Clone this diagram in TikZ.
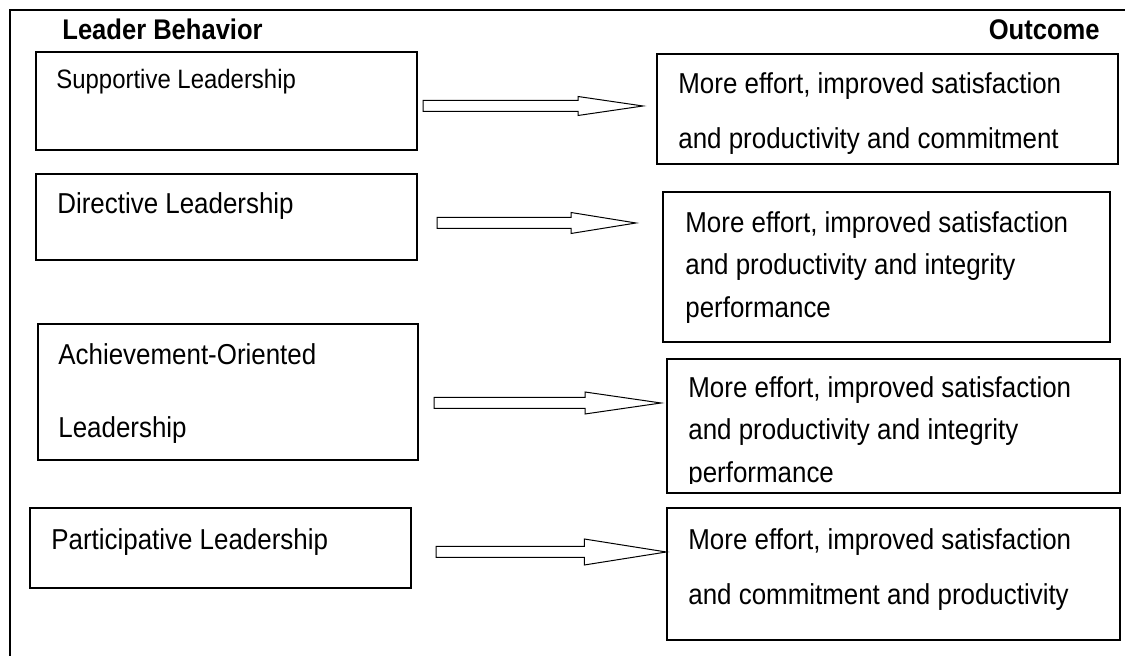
\documentclass[tikz,border=0pt]{standalone}
\usepackage{fontspec}
\setmainfont{Liberation Sans}[FakeStretch=0.9]
\usetikzlibrary{positioning,fit,calc}

\begin{document}
\begin{tikzpicture}[x=0.5pt,y=-0.5pt,
    box/.style={draw, line width=0.65pt, inner sep=0pt},
    txt/.style={anchor=north west, inner sep=0pt, align=left, font=\fontsize{14.4}{21.25}\selectfont},
    loose/.style={font=\fontsize{14.4}{27.5}\selectfont},
    head/.style={inner sep=0pt, font=\fontsize{14.2}{16}\selectfont\bfseries},
    blockarrow/.style 2 args={line width=0.5pt, to path={
        let \p1=(\tikztostart), \p2=(\tikztotarget) in
        (\x1,\y1+2.75pt) -- (\x2-#1,\y1+2.75pt) -- (\x2-#1,\y1+#2) -- (\x2,\y1)
        -- (\x2-#1,\y1-#2) -- (\x2-#1,\y1-2.75pt) -- (\x1,\y1-2.75pt) -- cycle}}]
        \useasboundingbox (0,0) rectangle (1125,656);

        % Frame
        \draw[line width=0.8pt] (1125,10) -- (10,10) -- (10,656);

        % Headings
        \node[head, anchor=base west] (lead) at (62,40) {Leader Behavior};
        \node[head, anchor=base east] (outc) at (1100,40) {Outcome};

        % Leader behaviour boxes
        \node[box, fit={(36,52) (417,150)}] (l1) {};
        \node[box, fit={(36,174) (417,260)}] (l2) {};
        \node[box, fit={(38,324) (418,460)}] (l3) {};
        \node[box, fit={(30,508) (411,588)}] (l4) {};

        \node[txt, font=\fontsize{13.3}{15}\selectfont] (l1t) at (56,68.6) {Supportive Leadership};
        \node[txt] (l2t) at (57,192) {Directive Leadership};
        \node[txt, font=\fontsize{14.4}{36.5}\selectfont] (l3t) at (58,343) {Achievement-Oriented\\Leadership};
        \node[txt] (l4t) at (51,528) {Participative Leadership};

        % Outcome boxes
        \node[box, fit={(657,54) (1118,164)}] (r1) {};
        \node[box, fit={(663,192) (1110,342)}] (r2) {};
        \node[box, fit={(667,359) (1120,493)}] (r3) {};
        \node[box, fit={(667,508) (1120,640)}] (r4) {};

        \node[txt, loose] (r1t) at (678,72) {More effort, improved satisfaction\\and productivity and commitment};
        \node[txt] (r2t) at (685,211) {More effort, improved satisfaction\\and productivity and integrity\\performance};
        \begin{scope}
            \clip (640,350) rectangle (1125,484);
            \node[txt] (r3t) at (688,376) {More effort, improved satisfaction\\and productivity and integrity\\performance};
        \end{scope}
        \node[txt, loose] (r4t) at (688,528) {More effort, improved satisfaction\\and commitment and productivity};

        % Arrows
        \coordinate (a1) at (423,106); \coordinate (b1) at (643,106);
        \coordinate (a2) at (437,223); \coordinate (b2) at (636,223);
        \coordinate (a3) at (434,403); \coordinate (b3) at (661,403);
        \coordinate (a4) at (436,552); \coordinate (b4) at (r4.west |- a4);
        \draw[blockarrow={32.5pt}{4.75pt}] (a1) to (b1);
        \draw[blockarrow={32.5pt}{5.25pt}] (a2) to (b2);
        \draw[blockarrow={38pt}{5.5pt}] (a3) to (b3);
        \draw[blockarrow={41pt}{6.5pt}] (a4) to (b4);

\end{tikzpicture}
\end{document}
